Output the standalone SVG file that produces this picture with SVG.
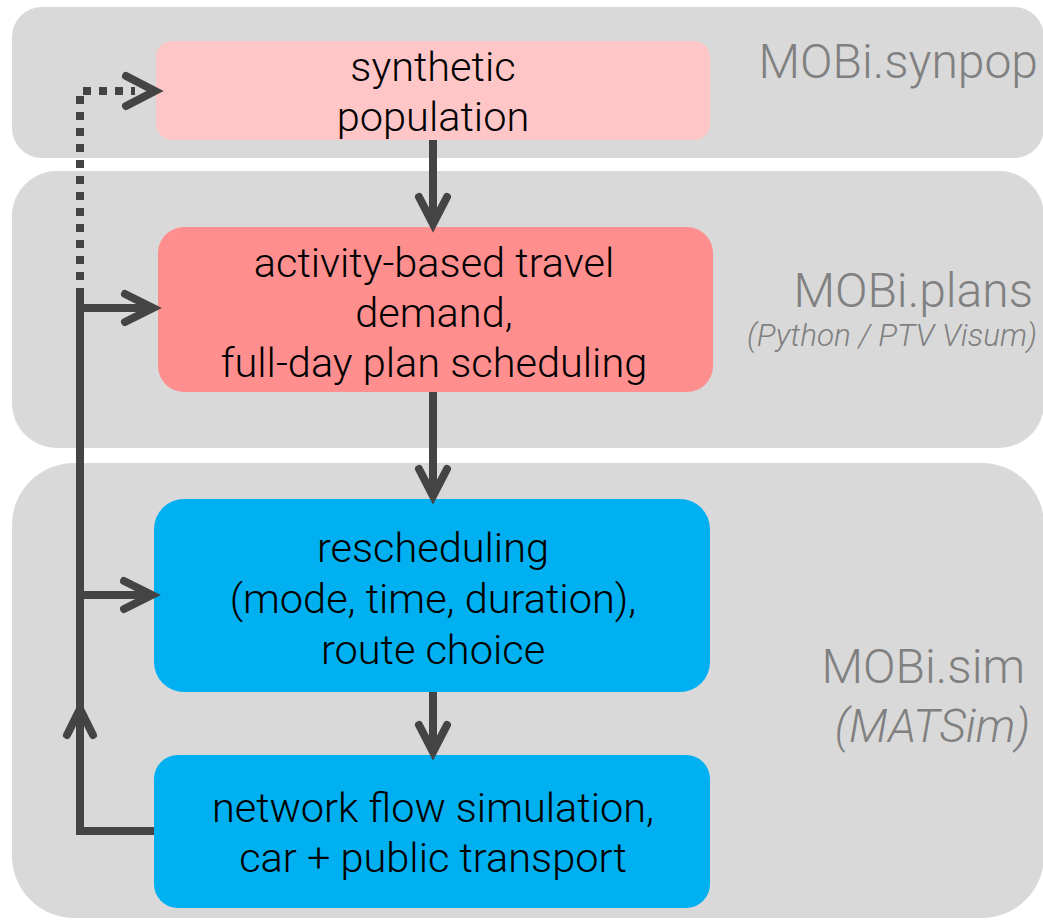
<svg xmlns="http://www.w3.org/2000/svg" width="1043" height="920" viewBox="0 0 1043 920">
<style>
.panel{fill:#D9D9D9}
.lbl{font-family:Roboto,"Liberation Sans",Arial,sans-serif;font-weight:300;font-size:41.5px;fill:#000;text-anchor:middle}
.plbl{font-family:Roboto,"Liberation Sans",Arial,sans-serif;font-weight:300;font-size:48px;fill:#808080;text-anchor:end}
.ital{font-style:italic}
.conn{fill:none;stroke:#444;stroke-width:8}
.head{fill:none;stroke:#444;stroke-width:8;stroke-linecap:round;stroke-linejoin:miter}
.dot{fill:none;stroke:#444;stroke-width:8;stroke-dasharray:8 8}
</style>
<rect width="1043" height="920" fill="#fff"/>
<g id="panel-synpop">
<rect class="panel" x="12" y="7" width="1032" height="151" rx="30" ry="30"/>
<text class="plbl" x="1038" y="78">MOBi.synpop</text>
</g>
<g id="panel-plans">
<rect class="panel" x="12" y="171" width="1032" height="277" rx="45" ry="45"/>
<text class="plbl" x="1033" y="307">MOBi.plans</text>
<text class="plbl ital" x="1037" y="346" style="font-size:31.5px">(Python / PTV Visum)</text>
</g>
<g id="panel-sim">
<rect class="panel" x="12" y="463" width="1032" height="455" rx="62" ry="62"/>
<text class="plbl" x="1025" y="683">MOBi.sim</text>
<text class="plbl ital" x="1030" y="742" style="font-size:46px">(MATSim)</text>
</g>
<g id="node-synthetic-population">
<rect x="156" y="41" width="554" height="99" rx="16" fill="#FEC6C6"/>
<text class="lbl" x="433" y="81">synthetic</text>
<text class="lbl" x="433" y="131">population</text>
</g>
<g id="node-activity-based">
<rect x="158" y="227" width="555" height="165" rx="26" fill="#FF8F8F"/>
<text class="lbl" x="434" y="277">activity-based travel</text>
<text class="lbl" x="434" y="327">demand,</text>
<text class="lbl" x="434" y="377">full-day plan scheduling</text>
</g>
<g id="node-rescheduling">
<rect x="154" y="499" width="556" height="193" rx="30" fill="#00B0F0"/>
<text class="lbl" x="433" y="562">rescheduling</text>
<text class="lbl" x="433" y="613">(mode, time, duration),</text>
<text class="lbl" x="433" y="664">route choice</text>
</g>
<g id="node-network-flow">
<rect x="154" y="755" width="556" height="153" rx="24" fill="#00B0F0"/>
<text class="lbl" x="433" y="822">network flow simulation,</text>
<text class="lbl" x="433" y="872">car + public transport</text>
</g>
<g id="connectors">
<line class="conn" x1="433" y1="140" x2="433" y2="220"/>
<path class="head" d="M419,197 L433,224 L447,197"/>
<line class="conn" x1="433" y1="392" x2="433" y2="492"/>
<path class="head" d="M419,469 L433,496 L447,469"/>
<line class="conn" x1="433" y1="692" x2="433" y2="748"/>
<path class="head" d="M419,725 L433,752 L447,725"/>
<path class="conn" d="M154,831 H80 V296"/>
<path class="head" d="M67,735 L80,709 L93,735"/>
<line class="conn" x1="80" y1="308" x2="150" y2="308"/>
<path class="head" d="M125,294 L153,308 L125,322"/>
<line class="conn" x1="80" y1="595" x2="148" y2="595"/>
<path class="head" d="M124,581 L152,595 L124,609"/>
<path class="dot" d="M80,296 V91 H135"/>
<path class="head" d="M126,76 L155,91 L126,106"/>
</g>
</svg>
